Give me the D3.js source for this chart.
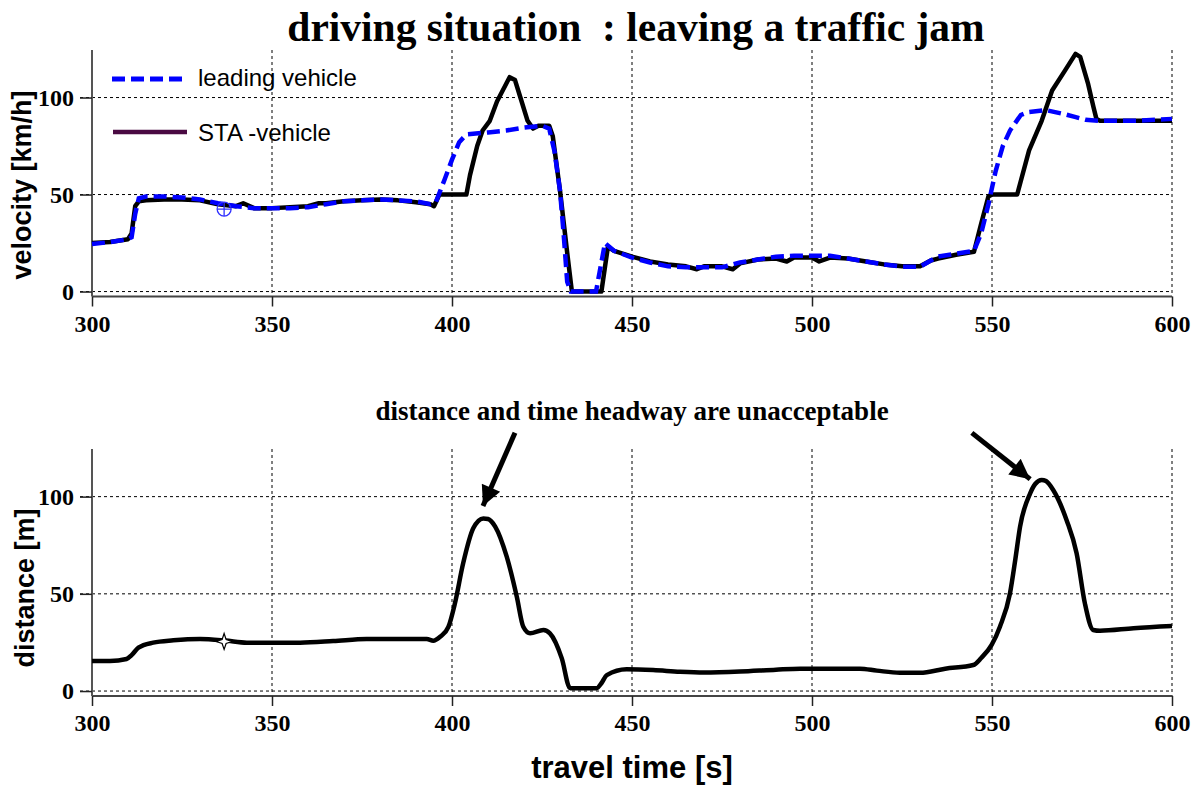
<!DOCTYPE html>
<html><head><meta charset="utf-8">
<script src="https://cdn.jsdelivr.net/npm/d3@7"></script>
<style>body{margin:0;background:#fff}svg{display:block}</style>
</head><body>
<svg id="c" width="1192" height="787"></svg>
<script>
const xTicks=[300,350,400,450,500,550,600];
const yTicks=[0,50,100];
const leadT=[300,305,310,311,312,313,315,320,325,330,335,340,345,350,355,360,365,370,375,380,385,390,394,395.5,398,400,402,404,410,415,420,425,427,428.5,430,431,432,433,440,441,442.5,445,450,455,460,465,470,475,480,485,490,495,500,505,510,515,520,525,530,533,535,540,545,547,549,551,553,555,558,560,565,570,573,576,580,590,600];
const leadV=[24.5,25.5,27,28,40,48,49,49,48.5,47.5,45.5,44,43,43,43,43.5,45,46.5,47,47.5,47,46.5,45,46,58,68,77,81,82,83,84.5,85.5,84,72,52,30,5,0,0,10,25,21,17.5,15,13,12.5,12.5,12.5,15,16.5,18,18.5,18.5,18.5,17,15.5,14,12.8,12.8,16,18,19.5,21,30,45,62,75,83,91,92.5,93.5,91.5,90,88.5,88,88,89];
const staT=[300,305,310,311,312,313,315,320,325,330,335,340,342,345,350,355,360,363,365,370,375,380,385,390,394,395,396.5,404,405,407,408.5,410.5,412.5,416,417.5,419,421,422.5,424,427,428,430,432,433.3,441.5,443.3,445,450,455,460,465,468,470,475,478,480,485,490,493,495,500,502,505,510,515,520,525,530,533,535,540,545,547,549,550,557,558,560.3,563.8,566.7,570.3,573.2,574.5,576.7,578.2,579,580,590,600];
const staV=[25,25.5,27,30,44,46.5,47,47.5,47.5,47,45,44,45.5,43,43,43.5,44,45.5,45.5,46.5,47,47.5,47,46,45,44,50,50,60,75,83,88,98,110.5,109,100,88,84,85.5,85.5,80,52,20,0,0,23,21,18,15.5,14,13,11.5,13,13,11.5,14.5,16.5,17,15.5,17.5,17.5,15.5,17.5,17,15.5,14,13,13,16,17,19,20.5,35,49,50,50,57,72.8,88,103.6,114,122.5,121,107,95,89,88,88,88];
const distT=[300,305,309.6,311,312.9,317,322.6,330,337,343,357.8,367,376.3,393,394.8,396.7,399,400.8,403.1,405.9,408.7,410,412,415.2,418,419.8,421.7,425.4,427.2,430.5,432.8,440.2,441.5,443,448.5,455.9,463.3,470,480,490,496.7,505,513.3,518,524.4,530,537,544.8,547,549.9,552.2,555,556.5,557.8,560.6,562,563.8,565,567,570.7,573.5,575.8,578.1,580,589.3,600];
const distV=[15.5,15.5,16.5,18.5,22.3,24.9,26.1,26.8,26,24.9,24.9,25.7,26.8,26.8,25.9,27.9,33,45,65.7,83.7,88.8,88.5,84.6,69.1,48.5,33.1,29.7,31.4,29.7,16.8,1.5,1.5,4,8.2,11.2,10.8,9.9,9.5,10,11,11.5,11.5,11.5,10.5,9.4,9.4,11.5,13.4,17,23.7,33.1,50.3,68,84.6,101.7,106.5,108.6,108,103.4,88,70.9,45.1,31.4,31,32.3,33.4];
const markerTop=[336.7,42.5];
const markerBot=[336.7,25.5];
const arrows=[[417.5,132.8,408.6,95.2],[544.4,132.8,560.6,109]];

const svg=d3.select('#c');
svg.append('rect').attr('width',1192).attr('height',787).attr('fill','#fff');
const x=d3.scaleLinear().domain([300,600]).range([92,1172]);
const yTop=d3.scaleLinear().domain([-2.55,124.5]).range([296.5,50]);
const yBot=d3.scaleLinear().domain([-2.55,124.5]).range([696,449]);

function panel(y){
  const g=svg.append('g');
  g.selectAll('.hg').data(yTicks).join('line').attr('x1',80).attr('x2',x(600)).attr('y1',d=>y(d)).attr('y2',d=>y(d))
    .attr('stroke','#000').attr('stroke-width',1).attr('stroke-dasharray','3,3');
  g.selectAll('.vg').data(xTicks.slice(1)).join('line').attr('x1',d=>x(d)).attr('x2',d=>x(d)).attr('y1',y.range()[1]).attr('y2',y.range()[0])
    .attr('stroke','#000').attr('stroke-width',1).attr('stroke-dasharray','3,3');
  const ax=d3.axisBottom(x).tickValues(xTicks).tickSize(10).tickPadding(8).tickFormat(d3.format('d'));
  const axg=g.append('g').attr('transform',`translate(0,${y.range()[0]})`).call(ax);
  axg.select('.domain').attr('stroke','#444').attr('stroke-width',2).attr('d',`M${x(300)},0H${x(600)}`);
  axg.selectAll('.tick line').attr('stroke','#222').attr('stroke-width',1.5);
  axg.selectAll('text').attr('font-family','Liberation Serif').attr('font-weight','bold').attr('font-size',24).attr('fill','#000');
  const ay=d3.axisLeft(y).tickValues(yTicks).tickSize(12).tickPadding(6);
  const ayg=g.append('g').attr('transform',`translate(${x(300)},0)`).call(ay);
  ayg.select('.domain').attr('stroke','#555').attr('stroke-width',2).attr('d',`M0,${y.range()[1]}V${y.range()[0]}`);
  ayg.selectAll('.tick line').attr('stroke','#222').attr('stroke-width',1.5);
  ayg.selectAll('text').attr('font-family','Liberation Serif').attr('font-weight','bold').attr('font-size',24).attr('fill','#000');
  return g;
}
const gt=panel(yTop);
const gb=panel(yBot);

const lineTop=d3.line().x(d=>x(d[0])).y(d=>yTop(d[1]));
gt.append('path').datum(staT.map((t,i)=>[t,staV[i]])).attr('d',lineTop).attr('fill','none').attr('stroke','#000').attr('stroke-width',4.5).attr('stroke-linejoin','round');
gt.append('path').datum(leadT.map((t,i)=>[t,leadV[i]])).attr('d',lineTop).attr('fill','none').attr('stroke','#0000ff').attr('stroke-width',4.5).attr('stroke-dasharray','13,6');

const mx=x(markerTop[0]), my=yTop(markerTop[1]);
gt.append('circle').attr('cx',mx).attr('cy',my).attr('r',7).attr('fill','none').attr('stroke','#3030ff').attr('stroke-width',1.3);
gt.append('path').attr('d',`M${mx-7},${my}H${mx+7}M${mx},${my-7}V${my+7}`).attr('stroke','#3030ff').attr('stroke-width',1.3);

const lineBot=d3.line().x(d=>x(d[0])).y(d=>yBot(d[1])).curve(d3.curveMonotoneX);
gb.append('path').datum(distT.map((t,i)=>[t,distV[i]])).attr('d',lineBot).attr('fill','none').attr('stroke','#000').attr('stroke-width',4.5).attr('stroke-linejoin','round');
const sx=x(markerBot[0]), sy=yBot(markerBot[1]);
gb.append('path').attr('d',`M${sx},${sy-8}L${sx+2},${sy-2}L${sx+8},${sy}L${sx+2},${sy+2}L${sx},${sy+8}L${sx-2},${sy+2}L${sx-8},${sy}L${sx-2},${sy-2}Z`)
  .attr('fill','#fff').attr('stroke','#000').attr('stroke-width',1.2);

const lg=svg.append('g');
lg.append('line').attr('x1',112).attr('x2',186).attr('y1',79).attr('y2',79).attr('stroke','#0000ff').attr('stroke-width',5).attr('stroke-dasharray','13,6');
lg.append('text').attr('x',198).attr('y',86).text('leading vehicle').attr('font-family','Liberation Sans').attr('font-size',24);
lg.append('line').attr('x1',113).attr('x2',187).attr('y1',132).attr('y2',132).attr('stroke','#4a0a42').attr('stroke-width',4.5);
lg.append('text').attr('x',198).attr('y',141).text('STA -vehicle').attr('font-family','Liberation Sans').attr('font-size',24);

svg.append('text').attr('x',636).attr('y',41).attr('text-anchor','middle').text('driving situation  : leaving a traffic jam')
  .attr('font-family','Liberation Serif').attr('font-weight','bold').attr('font-size',41.5).style('white-space','pre');
svg.append('text').attr('x',632).attr('y',420).attr('text-anchor','middle').text('distance and time headway are unacceptable')
  .attr('font-family','Liberation Serif').attr('font-weight','bold').attr('font-size',27);
svg.append('text').attr('transform','translate(31,185) rotate(-90)').attr('text-anchor','middle').text('velocity [km/h]')
  .attr('font-family','Liberation Sans').attr('font-weight','bold').attr('font-size',27);
svg.append('text').attr('transform','translate(34,588) rotate(-90)').attr('text-anchor','middle').text('distance [m]')
  .attr('font-family','Liberation Sans').attr('font-weight','bold').attr('font-size',27);
svg.append('text').attr('x',632).attr('y',778).attr('text-anchor','middle').text('travel time [s]')
  .attr('font-family','Liberation Sans').attr('font-weight','bold').attr('font-size',31);

const defs=svg.append('defs');
defs.append('marker').attr('id','ah').attr('viewBox','0 0 10 10').attr('refX',10).attr('refY',5)
  .attr('markerWidth',5.5).attr('markerHeight',4).attr('markerUnits','strokeWidth').attr('orient','auto')
  .append('path').attr('d','M0,0L10,5L0,10Z').attr('fill','#000');
svg.selectAll('.arr').data(arrows).join('line').attr('x1',d=>x(d[0])).attr('y1',d=>yBot(d[1])).attr('x2',d=>x(d[2])).attr('y2',d=>yBot(d[3]))
  .attr('stroke','#000').attr('stroke-width',5).attr('marker-end','url(#ah)');
</script>
</body></html>
